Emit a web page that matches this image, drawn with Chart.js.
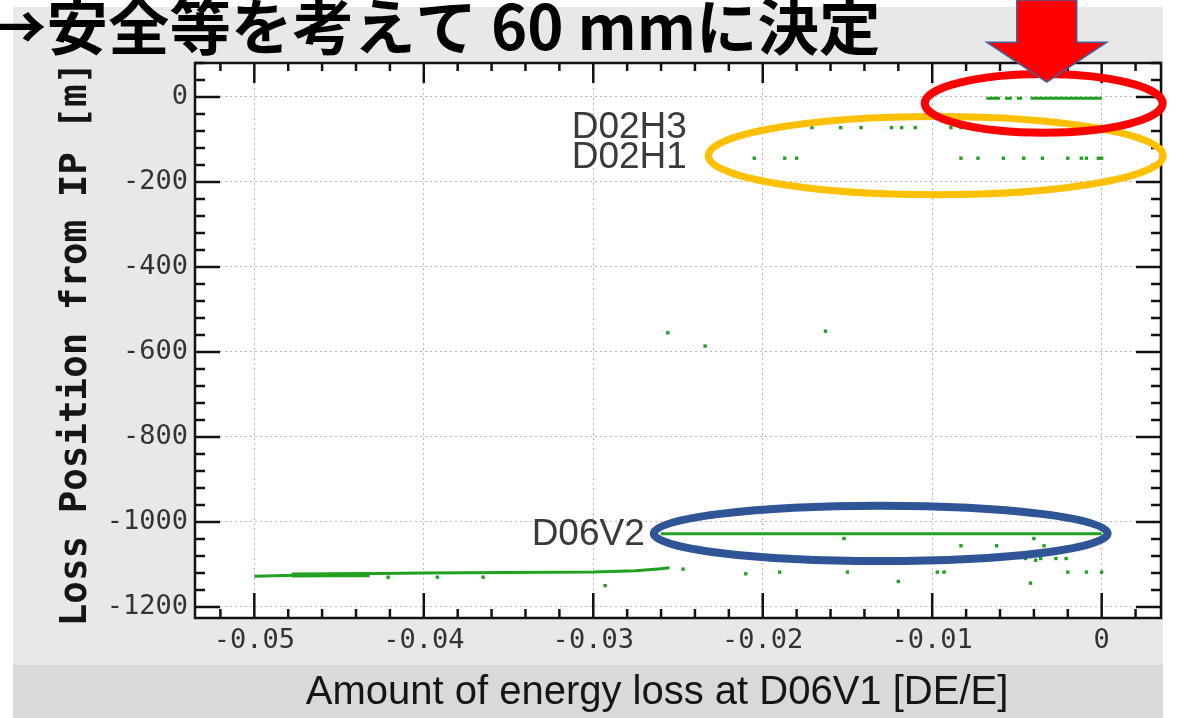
<!DOCTYPE html>
<html>
<head>
<meta charset="utf-8">
<script src="https://cdn.jsdelivr.net/npm/chart.js@4.4.1/dist/chart.umd.min.js"></script>
<style>
  html, body { margin: 0; padding: 0; background: #fff; }
  canvas { display: block; }
</style>
</head>
<body>
<canvas id="lossChart" width="1180" height="718"></canvas>
<script>
// tick values and labels
const xTicks = [-0.05, -0.04, -0.03, -0.02, -0.01, 0];
const xTickLabels = ["-0.05", "-0.04", "-0.03", "-0.02", "-0.01", "0"];
const yTicks = [0, -200, -400, -600, -800, -1000, -1200];
const yTickLabels = ["0", "-200", "-400", "-600", "-800", "-1000", "-1200"];

// losses near IP (drawn as short line pieces)
const topSegStartX = [-0.0068, -0.0057, -0.0050, -0.0042];
const topSegEndX = [-0.0060, -0.0053, -0.0047, 0];
const topSegY = [-3, -3, -3, -3];

// D02H3 / D02H1 losses
const d02h3X = [-0.0171, -0.0154, -0.0142, -0.0124, -0.0118, -0.0110, -0.0089, -0.0083, -0.0064];
const d02h3Y = [-72, -72, -72, -72, -72, -72, -72, -72, -72];
const d02h1X = [-0.0205, -0.0187, -0.0180, -0.0083, -0.0073, -0.0058, -0.0046, -0.0035, -0.0020, -0.0012, -0.0009, -0.0002, 0];
const d02h1Y = [-144, -144, -144, -144, -144, -144, -144, -144, -144, -144, -144, -144, -144];

// a few losses in the middle
const midX = [-0.0256, -0.0234, -0.0163];
const midY = [-555, -586, -551];

// D06V2 line
const d06v2X = [-0.026, 0];
const d06v2Y = [-1028, -1028];

// low line near D06V1
const lowLineX = [-0.05, -0.047, -0.044, -0.04, -0.035, -0.03, -0.0275, -0.026, -0.0255];
const lowLineY = [-1128, -1125, -1122, -1120, -1119, -1118, -1115, -1110, -1108];
const bandX = [-0.0478, -0.0455, -0.0432];
const bandY = [-1125, -1124, -1124];

// scattered points at the bottom
const lowPtsX = [-0.0421, -0.0392, -0.0365, -0.0293, -0.0247, -0.0210, -0.0190, -0.0152, -0.0150, -0.0120, -0.0097, -0.0093, -0.0083, -0.0062, -0.0045, -0.0042, -0.0040, -0.0039, -0.0036, -0.0034, -0.0027, -0.0021, -0.0020, -0.0009, 0];
const lowPtsY = [-1130, -1130, -1130, -1150, -1111, -1122, -1118, -1039, -1118, -1140, -1118, -1118, -1056, -1056, -1086, -1144, -1039, -1090, -1086, -1056, -1086, -1086, -1118, -1118, -1118];

const GREEN = "#22a022";

function pts(xs, ys) {
  return xs.map((x, i) => ({ x: x, y: ys[i] }));
}

function lineSet(data, width) {
  return {
    data: data,
    showLine: true,
    borderColor: GREEN,
    borderWidth: width,
    pointRadius: 0,
    fill: false
  };
}

function pointSet(data) {
  return {
    data: data,
    showLine: false,
    backgroundColor: GREEN,
    borderWidth: 0,
    pointStyle: "rect",
    pointRadius: 2.4
  };
}

const datasets = [];
topSegStartX.forEach((x0, i) => {
  datasets.push(lineSet([{ x: x0, y: topSegY[i] }, { x: topSegEndX[i], y: topSegY[i] }], 3));
});
datasets.push(lineSet(pts(d06v2X, d06v2Y), 3));
datasets.push(lineSet(pts(lowLineX, lowLineY), 3));
datasets.push(lineSet(pts(bandX, bandY), 5));
datasets.push(pointSet(pts(d02h3X, d02h3Y)));
datasets.push(pointSet(pts(d02h1X, d02h1Y)));
datasets.push(pointSet(pts(midX, midY)));
datasets.push(pointSet(pts(lowPtsX, lowPtsY)));

// annotations, in data units
const notes = {
  ellipses: [
    { cx: -0.00979, cy: -138, rx: 0.01342, ry: 92, color: "#ffc000", width: 7 },
    { cx: -0.00342, cy: -15, rx: 0.00702, ry: 69, color: "#ff0000", width: 8 },
    { cx: -0.01304, cy: -1027, rx: 0.01339, ry: 65, color: "#2f5597", width: 8 }
  ],
  labels: [
    { text: "D02H3", x: -0.03127, y: -73, align: "left" },
    { text: "D02H1", x: -0.03127, y: -143, align: "left" },
    { text: "D06V2", x: -0.02696, y: -1030, align: "right" }
  ],
  arrow: { shaftL: -0.00501, shaftR: -0.00147, top: 228, headY: 129, headL: -0.00678, headR: 0.0003, tipX: -0.00324, tipY: 35 }
};

const backdrop = {
  id: "backdrop",
  beforeDraw(chart) {
    const ctx = chart.ctx;
    const a = chart.chartArea;
    ctx.save();
    ctx.fillStyle = "#ffffff";
    ctx.fillRect(0, 0, chart.width, chart.height);
    ctx.fillStyle = "#e8e8e8";
    ctx.fillRect(13, 7, 1150, 658);
    ctx.fillStyle = "#d9d9d9";
    ctx.fillRect(13, 665, 1150, 53);
    ctx.fillStyle = "#ffffff";
    ctx.fillRect(a.left, a.top, a.right - a.left, a.bottom - a.top);
    ctx.restore();
  }
};

const frameTicks = {
  id: "frameTicks",
  afterDatasetsDraw(chart) {
    const ctx = chart.ctx;
    const a = chart.chartArea;
    const xs = chart.scales.x;
    const ys = chart.scales.y;
    ctx.save();
    ctx.strokeStyle = "#111";
    ctx.lineWidth = 2.5;
    ctx.beginPath();
    for (let k = -27; k <= 2; k++) {
      const v = k * 0.002;
      if (v < xs.min || v > xs.max) continue;
      const p = xs.getPixelForValue(v);
      const major = k % 5 === 0;
      ctx.moveTo(p, a.bottom);
      ctx.lineTo(p, a.bottom - (major ? 25 : 9));
      ctx.moveTo(p, a.top);
      ctx.lineTo(p, a.top + (major ? 20 : 8));
    }
    for (let k = -31; k <= 2; k++) {
      const v = k * 40;
      if (v < ys.min || v > ys.max) continue;
      const p = ys.getPixelForValue(v);
      const major = k % 5 === 0;
      ctx.moveTo(a.left, p);
      ctx.lineTo(a.left + (major ? 25 : 10), p);
      ctx.moveTo(a.right, p);
      ctx.lineTo(a.right - (major ? 25 : 10), p);
    }
    ctx.stroke();
    ctx.strokeRect(a.left, a.top, a.right - a.left, a.bottom - a.top);
    ctx.restore();
  }
};

const annotate = {
  id: "annotate",
  afterDraw(chart) {
    const ctx = chart.ctx;
    const xs = chart.scales.x;
    const ys = chart.scales.y;
    const X = v => xs.getPixelForValue(v);
    const Y = v => ys.getPixelForValue(v);
    ctx.save();

    notes.ellipses.forEach(e => {
      ctx.beginPath();
      ctx.ellipse(X(e.cx), Y(e.cy), Math.abs(X(e.cx + e.rx) - X(e.cx)), Math.abs(Y(e.cy + e.ry) - Y(e.cy)), 0, 0, Math.PI * 2);
      ctx.strokeStyle = e.color;
      ctx.lineWidth = e.width;
      ctx.stroke();
    });

    const ar = notes.arrow;
    ctx.beginPath();
    ctx.moveTo(X(ar.shaftL), Y(ar.top));
    ctx.lineTo(X(ar.shaftR), Y(ar.top));
    ctx.lineTo(X(ar.shaftR), Y(ar.headY));
    ctx.lineTo(X(ar.headR), Y(ar.headY));
    ctx.lineTo(X(ar.tipX), Y(ar.tipY));
    ctx.lineTo(X(ar.headL), Y(ar.headY));
    ctx.lineTo(X(ar.shaftL), Y(ar.headY));
    ctx.closePath();
    ctx.fillStyle = "#ff0000";
    ctx.fill();
    ctx.strokeStyle = "#41609a";
    ctx.lineWidth = 1.5;
    ctx.stroke();

    ctx.fillStyle = "#3a3a3a";
    ctx.font = '37px "Liberation Sans"';
    ctx.textBaseline = "middle";
    notes.labels.forEach(l => {
      ctx.textAlign = l.align;
      ctx.fillText(l.text, X(l.x), Y(l.y));
    });

    // axis titles
    ctx.fillStyle = "#151515";
    ctx.textAlign = "center";
    ctx.font = '40px "Liberation Sans"';
    ctx.fillText("Amount of energy loss at D06V1 [DE/E]", 657, 693);
    ctx.save();
    ctx.translate(76, 344);
    ctx.rotate(-Math.PI / 2);
    ctx.font = 'bold 37.5px "DejaVu Sans Mono"';
    ctx.fillText("Loss Position from IP [m]", 0, 0);
    ctx.restore();

    // slide heading
    ctx.fillStyle = "#000";
    ctx.textAlign = "left";
    ctx.textBaseline = "alphabetic";
    ctx.font = 'bold 61.5px "Noto Sans CJK JP"';
    ctx.fillText("→安全等を考えて 60 mmに決定", -15, 50);
    ctx.restore();
  }
};

const tickFont = { family: "DejaVu Sans Mono", size: 27 };

new Chart(document.getElementById("lossChart"), {
  type: "scatter",
  data: { datasets: datasets },
  options: {
    responsive: false,
    animation: false,
    devicePixelRatio: 1,
    layout: { autoPadding: false, padding: { top: 63, right: 19, left: 0, bottom: 0 } },
    plugins: { legend: { display: false }, tooltip: { enabled: false } },
    scales: {
      x: {
        type: "linear",
        min: -0.0535,
        max: 0.0035,
        afterBuildTicks: s => { s.ticks = xTicks.map(v => ({ value: v })); },
        afterFit: s => { s.height = 100; },
        ticks: {
          font: tickFont,
          color: "#333",
          padding: 7,
          maxRotation: 0,
          callback: (v, i) => xTickLabels[i]
        },
        grid: { color: "#b8b8b8", lineWidth: 1, drawTicks: false },
        border: { display: false, dash: [2, 3] }
      },
      y: {
        type: "linear",
        min: -1226,
        max: 80,
        afterBuildTicks: s => { s.ticks = yTicks.map(v => ({ value: v })); },
        afterFit: s => { s.width = 195; },
        ticks: {
          font: tickFont,
          color: "#333",
          padding: 7,
          callback: (v, i) => yTickLabels[i]
        },
        grid: { color: "#b8b8b8", lineWidth: 1, drawTicks: false },
        border: { display: false, dash: [2, 3] }
      }
    }
  },
  plugins: [backdrop, frameTicks, annotate]
});
</script>
</body>
</html>
